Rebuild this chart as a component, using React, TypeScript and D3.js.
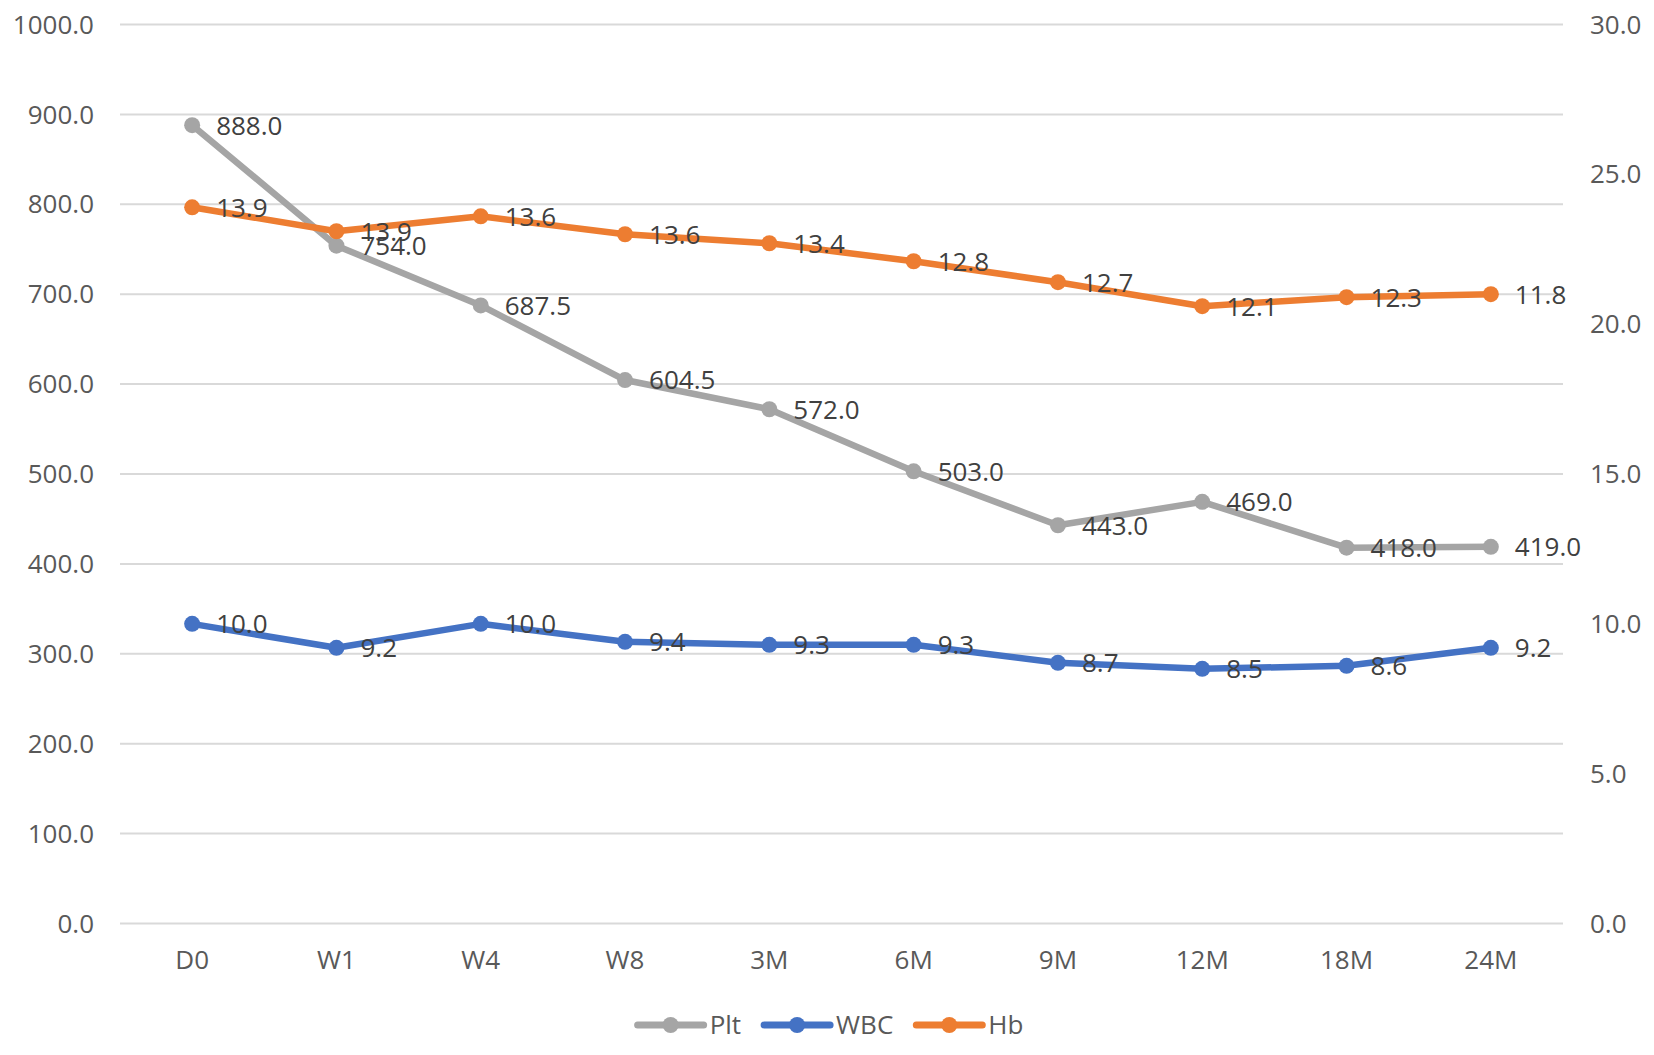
import React, { useEffect, useRef } from "react";
import * as d3 from "d3";

const categories = ["D0", "W1", "W4", "W8", "3M", "6M", "9M", "12M", "18M", "24M"];
const pltValues = [888.0, 754.0, 687.5, 604.5, 572.0, 503.0, 443.0, 469.0, 418.0, 419.0];
const wbcValues = [10.0, 9.2, 10.0, 9.4, 9.3, 9.3, 8.7, 8.5, 8.6, 9.2];
// Hb as plotted against the right axis, and the data labels printed beside each point
const hbValues = [23.9, 23.1, 23.6, 23.0, 22.7, 22.1, 21.4, 20.6, 20.9, 21.0];
const hbLabels = ["13.9", "13.9", "13.6", "13.6", "13.4", "12.8", "12.7", "12.1", "12.3", "11.8"];
const leftTicks = [0, 100, 200, 300, 400, 500, 600, 700, 800, 900, 1000];
const rightTicks = [0, 5, 10, 15, 20, 25, 30];
const seriesNames = ["Plt", "WBC", "Hb"];

const W = 1654;
const H = 1055;
const FONT = "'Open Sans', 'Segoe UI', sans-serif";
const COLORS: Record<string, string> = { Plt: "#A5A5A5", WBC: "#4472C4", Hb: "#ED7D31" };

export default function App() {
  const ref = useRef<SVGSVGElement>(null);

  useEffect(() => {
    const svg = d3.select(ref.current);
    svg.selectAll("*").remove();

    const left = 120, right = 1563, top = 24.5, bottom = 923.5;
    const x = d3.scaleBand<string>().domain(categories).range([left, right]);
    const cx = (c: string) => (x(c) as number) + x.bandwidth() / 2;
    const yL = d3.scaleLinear().domain([0, 1000]).range([bottom, top]);
    const yR = d3.scaleLinear().domain([0, 30]).range([bottom, top]);
    const f1 = d3.format(".1f");

    svg.append("rect").attr("width", W).attr("height", H).attr("fill", "#ffffff");

    // gridlines
    svg.append("g")
      .selectAll("line")
      .data(leftTicks)
      .join("line")
      .attr("x1", left)
      .attr("x2", right)
      .attr("y1", (d) => yL(d))
      .attr("y2", (d) => yL(d))
      .attr("stroke", "#D9D9D9")
      .attr("stroke-width", 2);

    // left axis labels
    svg.append("g")
      .selectAll("text")
      .data(leftTicks)
      .join("text")
      .attr("x", 94)
      .attr("y", (d) => yL(d))
      .attr("dy", "0.35em")
      .attr("text-anchor", "end")
      .attr("font-family", FONT)
      .attr("font-size", 26)
      .attr("fill", "#595959")
      .text((d) => f1(d));

    // right axis labels
    svg.append("g")
      .selectAll("text")
      .data(rightTicks)
      .join("text")
      .attr("x", 1590)
      .attr("y", (d) => yR(d))
      .attr("dy", "0.35em")
      .attr("text-anchor", "start")
      .attr("font-family", FONT)
      .attr("font-size", 26)
      .attr("fill", "#595959")
      .text((d) => f1(d));

    // category labels
    svg.append("g")
      .selectAll("text")
      .data(categories)
      .join("text")
      .attr("x", (d) => cx(d))
      .attr("y", 960)
      .attr("dy", "0.35em")
      .attr("text-anchor", "middle")
      .attr("font-family", FONT)
      .attr("font-size", 26)
      .attr("fill", "#595959")
      .text((d) => d);

    const series = [
      { name: "Plt", pts: categories.map((c, i) => ({ x: cx(c), y: yL(pltValues[i]), label: f1(pltValues[i]) })) },
      { name: "WBC", pts: categories.map((c, i) => ({ x: cx(c), y: yR(wbcValues[i]), label: f1(wbcValues[i]) })) },
      { name: "Hb", pts: categories.map((c, i) => ({ x: cx(c), y: yR(hbValues[i]), label: hbLabels[i] })) },
    ];

    const line = d3.line<{ x: number; y: number }>().x((d) => d.x).y((d) => d.y);

    series.forEach((s) => {
      const g = svg.append("g");
      g.append("path")
        .attr("d", line(s.pts) as string)
        .attr("fill", "none")
        .attr("stroke", COLORS[s.name])
        .attr("stroke-width", 6.5)
        .attr("stroke-linejoin", "round")
        .attr("stroke-linecap", "round");
      g.selectAll("circle")
        .data(s.pts)
        .join("circle")
        .attr("cx", (d) => d.x)
        .attr("cy", (d) => d.y)
        .attr("r", 8)
        .attr("fill", COLORS[s.name]);
    });

    // data labels on top
    series.forEach((s) => {
      svg.append("g")
        .selectAll("text")
        .data(s.pts)
        .join("text")
        .attr("x", (d) => d.x + 24)
        .attr("y", (d) => d.y)
        .attr("dy", "0.36em")
        .attr("font-family", FONT)
        .attr("font-size", 26)
        .attr("fill", "#404040")
        .text((d) => d.label);
    });

    // legend
    const legend = svg.append("g");
    const ly = 1025;
    const lineLen = 66, textGap = 6, itemGap = 23;
    let cursor = 0;
    const items: { name: string; x: number; tw: number }[] = [];
    seriesNames.forEach((n) => {
      const t = legend.append("text")
        .attr("y", ly)
        .attr("dy", "0.35em")
        .attr("font-family", FONT)
        .attr("font-size", 26)
        .attr("fill", "#595959")
        .text(n);
      const tw = (t.node() as SVGTextElement).getComputedTextLength();
      items.push({ name: n, x: cursor, tw });
      cursor += lineLen + textGap + tw + itemGap;
    });
    const total = cursor - itemGap;
    const start = 830.5 - total / 2;
    legend.selectAll<SVGTextElement, unknown>("text").each(function (_, i) {
      const it = items[i];
      d3.select(this).attr("x", start + it.x + lineLen + textGap);
    });
    items.forEach((it) => {
      const x0 = start + it.x;
      legend.append("line")
        .attr("x1", x0)
        .attr("x2", x0 + lineLen)
        .attr("y1", ly)
        .attr("y2", ly)
        .attr("stroke", COLORS[it.name])
        .attr("stroke-width", 7)
        .attr("stroke-linecap", "round");
      legend.append("circle")
        .attr("cx", x0 + lineLen / 2)
        .attr("cy", ly)
        .attr("r", 8)
        .attr("fill", COLORS[it.name]);
    });
  }, []);

  return (
    <svg
      ref={ref}
      width={W}
      height={H}
      style={{ position: "absolute", left: 0, top: 0, display: "block" }}
    />
  );
}
